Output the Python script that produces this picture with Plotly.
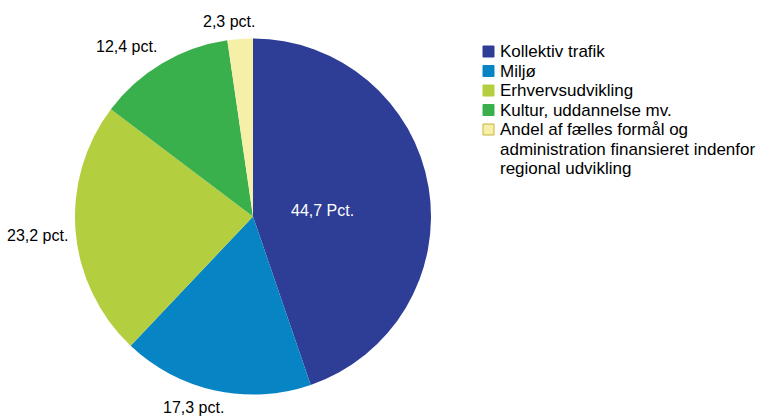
import plotly.graph_objects as go

W, H = 772, 417

categories = [
    "Kollektiv trafik",
    "Miljø",
    "Erhvervsudvikling",
    "Kultur, uddannelse mv.",
    "Andel af fælles formål og<br>administration finansieret indenfor<br>regional udvikling",
]
values = [44.7, 17.3, 23.2, 12.4, 2.3]
value_labels = ["44,7 Pct.", "17,3 pct.", "23,2 pct.", "12,4 pct.", "2,3 pct."]

colors = ["#2E3D95", "#0784C4", "#B3CF3F", "#3AB04C", "#F6EFA8"]
edge_colors = ["#2E3D95", "#0784C4", "#B3CF3F", "#3AB04C", "#C9B23A"]

# label placement (pixel centres) for each value label
label_px = [(322, 211), (193, 407), (37, 235), (126, 47), (229, 21)]
label_colors = ["white", "black", "black", "black", "black"]

font_family = "Liberation Sans, Arial, sans-serif"

fig = go.Figure(
    go.Pie(
        labels=categories,
        values=values,
        sort=False,
        direction="clockwise",
        rotation=0,
        marker=dict(colors=colors, line=dict(width=0)),
        textinfo="none",
        hoverinfo="label+percent",
        domain=dict(x=[75 / W, 431 / W], y=[1 - 395 / H, 1 - 38 / H]),
        showlegend=False,
    )
)

for (px, py), txt, c in zip(label_px, value_labels, label_colors):
    fig.add_annotation(
        x=px / W, y=1 - py / H, xref="paper", yref="paper",
        text=txt, showarrow=False, xanchor="center", yanchor="middle",
        font=dict(family=font_family, size=16, color=c),
    )

# legend drawn as swatches + text lines
leg_x_sw, leg_sw = 483, 11
leg_x_txt = 499
leg_y0, pitch = 51.5, 19.5
line_idx = 0
for cat, col, ecol in zip(categories, colors, edge_colors):
    yc = leg_y0 + line_idx * pitch
    fig.add_shape(
        type="rect", xref="paper", yref="paper",
        x0=leg_x_sw / W, x1=(leg_x_sw + leg_sw) / W,
        y0=1 - (yc + leg_sw / 2) / H, y1=1 - (yc - leg_sw / 2) / H,
        fillcolor=col, line=dict(color=ecol, width=1),
    )
    for part in cat.split("<br>"):
        yl = leg_y0 + line_idx * pitch
        fig.add_annotation(
            x=leg_x_txt / W, y=1 - yl / H, xref="paper", yref="paper",
            text=part, showarrow=False, xanchor="left", yanchor="middle",
            font=dict(family=font_family, size=17, color="black"),
            borderpad=0,
        )
        line_idx += 1

fig.update_layout(
    width=W, height=H,
    margin=dict(l=0, r=0, t=0, b=0),
    paper_bgcolor="white",
    plot_bgcolor="white",
    showlegend=False,
)

fig.write_html("out.html")
